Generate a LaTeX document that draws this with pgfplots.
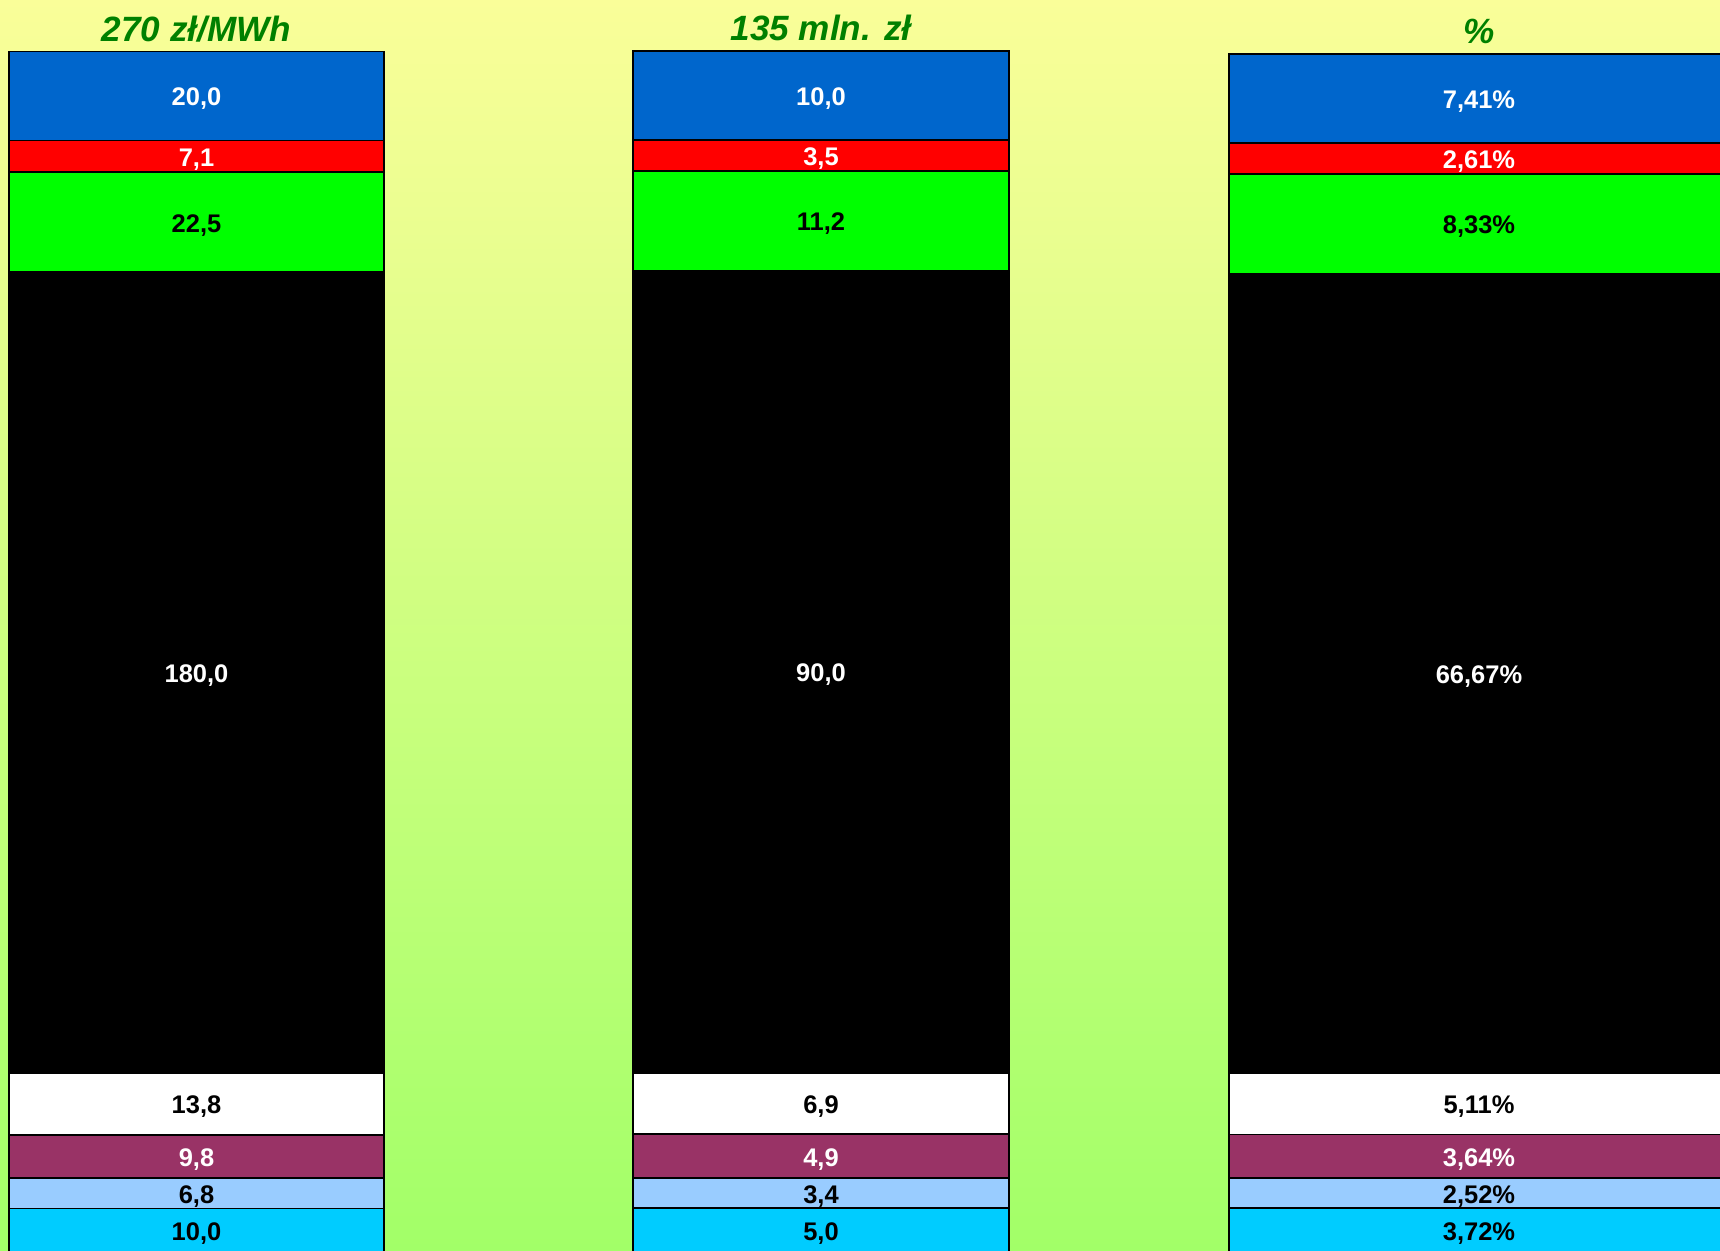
\documentclass[border=0pt]{standalone}
\usepackage{pgfplots}
\pgfplotsset{compat=1.18}
\usepackage{fontspec}
\setmainfont{Liberation Sans}

\definecolor{bgtop}{RGB}{250,254,153}
\definecolor{bgbot}{RGB}{162,255,104}
\definecolor{sblue}{RGB}{0,102,204}
\definecolor{sred}{RGB}{255,0,0}
\definecolor{sgreen}{RGB}{0,255,0}
\definecolor{spurple}{RGB}{153,51,102}
\definecolor{slight}{RGB}{153,204,255}
\definecolor{scyan}{RGB}{0,204,255}
\definecolor{ttlgreen}{RGB}{0,128,0}

\pgfplotsset{
  stackbar/.style={
    scale only axis, hide axis, clip=false,
    anchor=south west,
    ybar stacked, bar width=1,
    xmin=-0.5, xmax=0.5, ymin=0,
    point meta=explicit symbolic,
    nodes near coords,
    every node near coord/.append style={anchor=center, inner sep=0pt,
      yshift=-0.03cm, font=\bfseries\fontsize{7.25}{8}\selectfont},
    every axis title/.style={at={(0.5,1)}, anchor=base, yshift=0.1cm,
      inner sep=0pt, text=ttlgreen,
      font=\bfseries\itshape\fontsize{10}{12}\selectfont},
  },
  seg/.style={fill=#1, draw=black, line width=0.55pt},
  wlab/.style={every node near coord/.append style={text=white}},
}

\begin{document}
\begin{tikzpicture}
\useasboundingbox (0,0) rectangle (17.2,12.51);
\clip (0,0) rectangle (17.2,12.51);
\shade[top color=bgtop, bottom color=bgbot] (0,0) rectangle (17.2,12.51);

% zl/MWh
\begin{axis}[stackbar, at={(0.09cm,-0.02cm)}, width=3.75cm, height=12.015cm,
  ymax=270, title={270 zł/MWh}]
\addplot[seg=scyan] coordinates {(0,10.0) [10,0]};
\addplot[seg=slight] coordinates {(0,6.8) [6,8]};
\addplot[seg=spurple, wlab] coordinates {(0,9.8) [9,8]};
\addplot[seg=white] coordinates {(0,13.8) [13,8]};
\addplot[seg=black, wlab] coordinates {(0,180.0) [180,0]};
\addplot[seg=sgreen] coordinates {(0,22.5) [22,5]};
\addplot[seg=sred, wlab] coordinates {(0,7.1) [7,1]};
\addplot[seg=sblue, wlab] coordinates {(0,20.0) [20,0]};
\end{axis}

% mln zl
\begin{axis}[stackbar, at={(6.33cm,-0.02cm)}, width=3.76cm, height=12.023cm,
  ymax=134.9, title={135 mln. zł}]
\addplot[seg=scyan] coordinates {(0,5.0) [5,0]};
\addplot[seg=slight] coordinates {(0,3.4) [3,4]};
\addplot[seg=spurple, wlab] coordinates {(0,4.9) [4,9]};
\addplot[seg=white] coordinates {(0,6.9) [6,9]};
\addplot[seg=black, wlab] coordinates {(0,90.0) [90,0]};
\addplot[seg=sgreen] coordinates {(0,11.2) [11,2]};
\addplot[seg=sred, wlab] coordinates {(0,3.5) [3,5]};
\addplot[seg=sblue, wlab] coordinates {(0,10.0) [10,0]};
\end{axis}

% percent
\begin{axis}[stackbar, at={(12.29cm,-0.02cm)}, width=5.0cm, height=11.99cm,
  ymax=100.01, title={\%}]
\addplot[seg=scyan] coordinates {(0,3.72) [3,72\%]};
\addplot[seg=slight] coordinates {(0,2.52) [2,52\%]};
\addplot[seg=spurple, wlab] coordinates {(0,3.64) [3,64\%]};
\addplot[seg=white] coordinates {(0,5.11) [5,11\%]};
\addplot[seg=black, wlab] coordinates {(0,66.67) [66,67\%]};
\addplot[seg=sgreen] coordinates {(0,8.33) [8,33\%]};
\addplot[seg=sred, wlab] coordinates {(0,2.61) [2,61\%]};
\addplot[seg=sblue, wlab] coordinates {(0,7.41) [7,41\%]};
\end{axis}
\end{tikzpicture}
\end{document}
